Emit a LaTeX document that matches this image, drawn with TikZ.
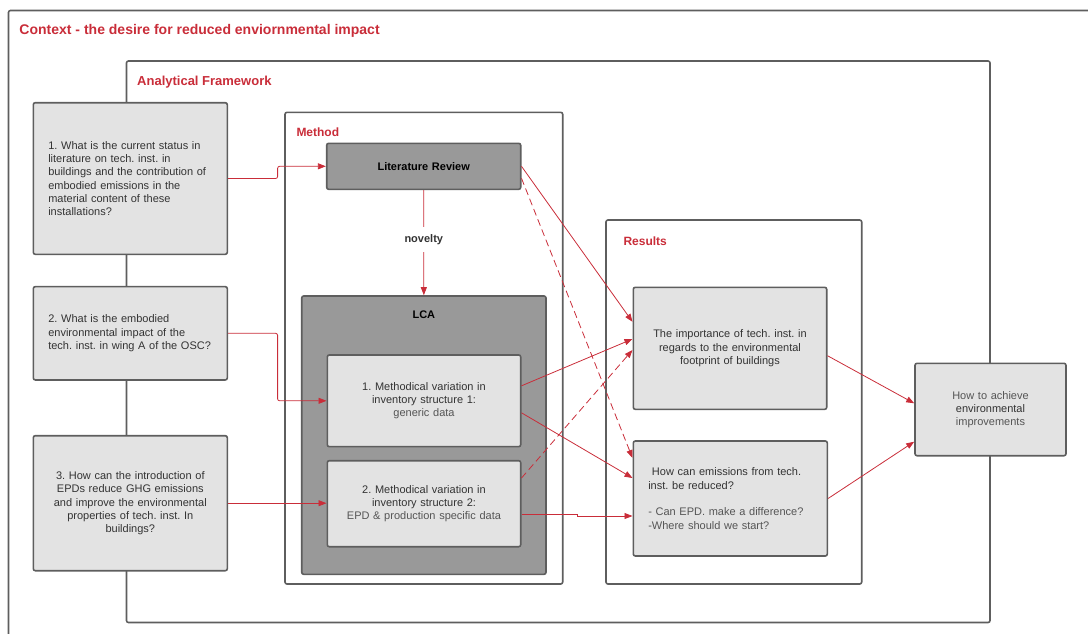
\documentclass[tikz,border=0pt]{standalone}
\usepackage{fontspec}
\setmainfont{Liberation Sans}
\usepackage{tikz}
\usetikzlibrary{arrows.meta}
\definecolor{lucidred}{HTML}{C92D39}
\definecolor{boxline}{HTML}{5E5E5E}
\definecolor{boxfill}{HTML}{E3E3E3}
\definecolor{darkfill}{HTML}{999999}
\definecolor{txt}{HTML}{333333}
\definecolor{subtxt}{HTML}{555555}
\frenchspacing

\begin{document}
\begin{tikzpicture}[x=1pt, y=-1pt,
  container/.style={draw=boxline, line width=1.6pt, rounded corners=2pt},
  qbox/.style={draw=boxline, fill=boxfill, line width=1.6pt, rounded corners=2pt,
    inner sep=0pt, text width=164pt, text=txt, font=\fontsize{11}{13.3}\selectfont},
  darkbox/.style={qbox, fill=darkfill, text=black},
  boxtitle/.style={anchor=base west, inner sep=0pt, text=lucidred, font=\bfseries\fontsize{12}{14}\selectfont},
  flow/.style={draw=lucidred, line width=0.8pt, -{Triangle[length=8pt,width=6pt]}},
  dashflow/.style={flow, dash pattern=on 7pt off 4pt}]

\useasboundingbox (0,0) rectangle (1088,633);

% nested frames
\draw[container] (1100,10.5) -- (8.5,10.5) -- (8.5,650);
\draw[container] (126.5,61) rectangle (990,622.5);
\draw[container] (285,112.3) rectangle (562.7,584);
\draw[container] (606,220) rectangle (861.7,584);

\node[boxtitle, font=\bfseries\fontsize{14}{16}\selectfont] (ctx) at (19.3,34.5) {Context - the desire for reduced enviornmental impact};
\node[boxtitle, font=\bfseries\fontsize{13}{15}\selectfont] (af) at (137,85) {Analytical Framework};
\node[boxtitle] (meth) at (296.3,136) {Method};
\node[boxtitle] (res) at (623.3,245.3) {Results};

% research questions
\node[qbox, align=left, minimum width=194pt, minimum height=151.6pt] (q1) at (130.3,178.5)
  {1. What is the current status in\\literature on tech. inst. in\\buildings and the contribution of\\embodied emissions in the\\material content of these\\installations?};
\node[qbox, align=left, minimum width=194pt, minimum height=93.3pt] (q2) at (130.3,333.3)
  {2. What is the embodied\\environmental impact of the\\tech. inst. in wing A of the OSC?};
\node[qbox, align=center, minimum width=194pt, minimum height=135pt] (q3) at (130.3,503.2)
  {3. How can the introduction of\\EPDs reduce GHG emissions\\and improve the environmental\\properties of tech. inst. In\\buildings?};

% method
\node[darkbox, align=center, minimum width=194pt, minimum height=46pt, font=\bfseries\fontsize{11}{13.3}\selectfont] (lit) at (423.7,166.3) {Literature Review};
\node[darkbox, minimum width=244.3pt, minimum height=278.3pt, text width=200pt] (lca) at (423.85,435.15) {};
\node[font=\bfseries\fontsize{11}{13.3}\selectfont, inner sep=0pt] (lcat) at ([yshift=-19.7pt]lca.north) {LCA};
\node[qbox, align=center, minimum width=193.4pt, minimum height=91.7pt] (m1) at (424,400.8)
  {1. Methodical variation in\\inventory structure 1:\\\textcolor{subtxt}{generic data}};
\node[qbox, align=center, minimum width=193.4pt, minimum height=86pt] (m2) at (424,503.7)
  {2. Methodical variation in\\inventory structure 2:\\\textcolor{subtxt}{EPD \& production specific data}};

% results
\node[qbox, align=center, minimum width=193.4pt, minimum height=122pt] (r1) at (730,348.3)
  {The importance of tech. inst. in\\regards to the environmental\\footprint of buildings};
\node[qbox, align=left, minimum width=194pt, minimum height=115pt] (r2) at (730.3,498.5)
  {\ How can emissions from tech.\\inst. be reduced?\\[13.3pt]\textcolor{subtxt}{- Can EPD. make a difference?}\\\textcolor{subtxt}{-Where should we start?}};
\node[qbox, align=center, text width=130pt, minimum width=151pt, minimum height=92.4pt] (goal) at (990.5,409.5)
  {\textcolor{subtxt}{How to achieve}\\environmental\\\textcolor{subtxt}{improvements}};

% connectors
\draw[flow, rounded corners=2pt] (q1.east) -- ++(49.5,0) |- (lit.west);
\draw[flow, rounded corners=2pt] (q2.east) -- ++(49.5,0) |- (m1.west);
\draw[flow] (q3.east) -- (q3.east -| m2.west);
\draw[flow] (lit.south) -- node[pos=0.47, fill=white, inner xsep=2pt, inner ysep=7pt,
  text=txt, font=\bfseries\fontsize{11}{13.3}\selectfont] (nov) {novelty} (lca.north);
\draw[flow] (lit.east) -- ([yshift=26.5pt]r1.west);
\draw[dashflow] ([yshift=-12pt]lit.east) -- ([yshift=40.5pt]r2.west);
\draw[flow] ([yshift=15pt]m1.east) -- ([yshift=9.3pt]r1.west);
\draw[flow] ([yshift=-12pt]m1.east) -- ([yshift=20.5pt]r2.west);
\draw[dashflow] ([yshift=25.7pt]m2.east) -- ([yshift=-1.7pt]r1.west);
\draw[flow] ([yshift=-10.3pt]m2.east) -- ++(56,0) |- ([yshift=-17.5pt]r2.west);
\draw[flow] ([yshift=-7.4pt]r1.east) -- ([yshift=6.2pt]goal.west);
\draw[flow] (r2.east) -- ([yshift=-32.2pt]goal.west);
\end{tikzpicture}
\end{document}
